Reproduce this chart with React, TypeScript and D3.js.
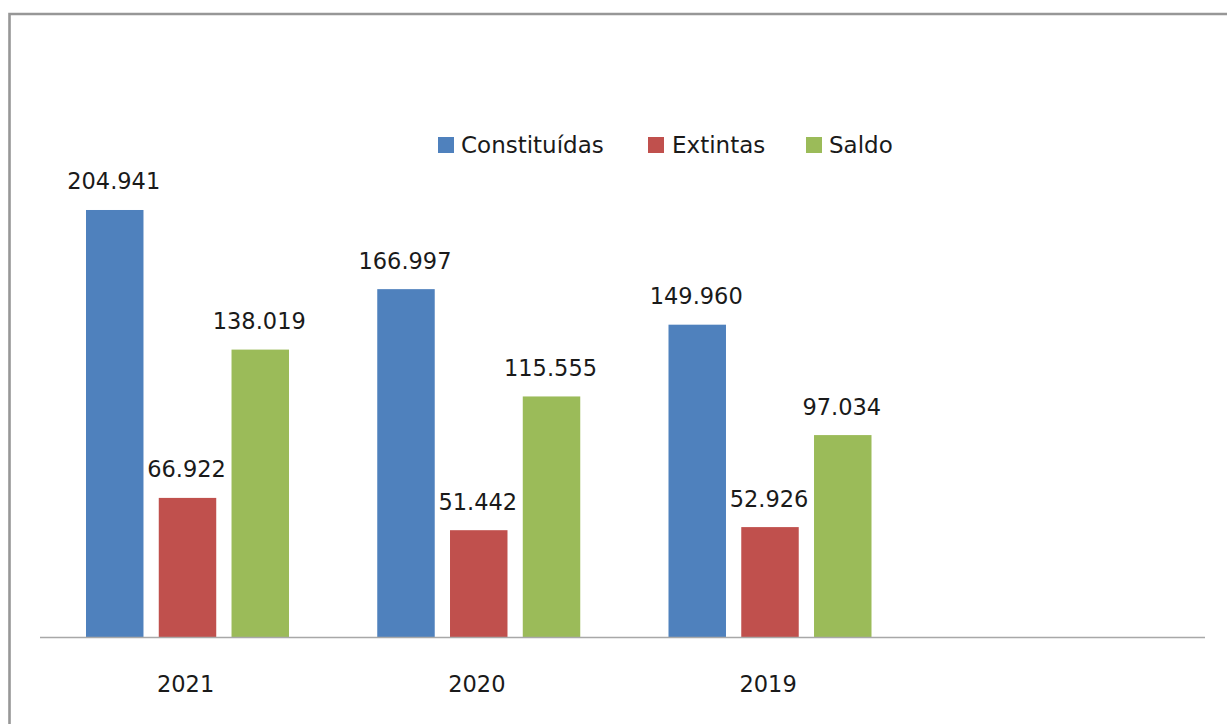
import React from "react";
import * as d3 from "d3";

const categories = ["2021", "2020", "2019", ""];
const seriesNames = ["Constituídas", "Extintas", "Saldo"];
const constituidas = [204941, 166997, 149960];
const extintas = [66922, 51442, 52926];
const saldo = [138019, 115555, 97034];
const seriesValues = [constituidas, extintas, saldo];
const colors = ["#4F81BD", "#C0504D", "#9BBB59"];

const W = 1227;
const H = 724;
const FONT = "'DejaVu Sans', sans-serif";

const fmt = (v: number) => {
  const s = Math.round(v).toString();
  return s.replace(/\B(?=(\d{3})+(?!\d))/g, ".");
};

export default function App() {
  const x0 = d3.scaleBand<string>().domain(categories).range([40, 1205]).padding(0);
  const x1 = d3
    .scaleBand<string>()
    .domain(seriesNames)
    .range([46, 249])
    .paddingInner(0.21)
    .paddingOuter(0);
  const y = d3.scaleLinear().domain([0, 250000]).range([637.5, 116]);

  const legendItems = [
    { name: seriesNames[0], sx: 438, tx: 461 },
    { name: seriesNames[1], sx: 648, tx: 672 },
    { name: seriesNames[2], sx: 806, tx: 829 },
  ];

  return (
    <svg
      width={W}
      height={H}
      style={{ position: "absolute", left: 0, top: 0, background: "#fff" }}
      fontFamily={FONT}
    >
      <rect x={0} y={0} width={W} height={H} fill="#fff" />
      <path d={`M 9.5 ${H + 5} V 14 H ${W + 5}`} fill="none" stroke="#979797" strokeWidth={2.6} />

      {categories.slice(0, 3).map((cat, ci) =>
        seriesNames.map((s, si) => {
          const v = seriesValues[si][ci];
          const bx = (x0(cat) ?? 0) + (x1(s) ?? 0);
          const bw = x1.bandwidth();
          return (
            <g key={cat + s}>
              <rect x={bx} y={y(v)} width={bw} height={y(0) - y(v)} fill={colors[si]} />
              <text
                x={bx + bw / 2 - 1}
                y={y(v) - 20.5}
                textAnchor="middle"
                fontSize={22.5}
                fill="#1a1a1a"
              >
                {fmt(v)}
              </text>
            </g>
          );
        })
      )}

      <line x1={40} x2={1205} y1={637.5} y2={637.5} stroke="#a8a8a8" strokeWidth={1.5} />

      {categories.slice(0, 3).map((cat) => (
        <text
          key={cat}
          x={(x0(cat) ?? 0) + x0.bandwidth() / 2}
          y={692}
          textAnchor="middle"
          fontSize={22.5}
          fill="#1a1a1a"
        >
          {cat}
        </text>
      ))}

      {legendItems.map((it, i) => (
        <g key={it.name}>
          <rect x={it.sx} y={137} width={16} height={16} fill={colors[i]} />
          <text x={it.tx} y={152.5} fontSize={23} fill="#1a1a1a">
            {it.name}
          </text>
        </g>
      ))}
    </svg>
  );
}
